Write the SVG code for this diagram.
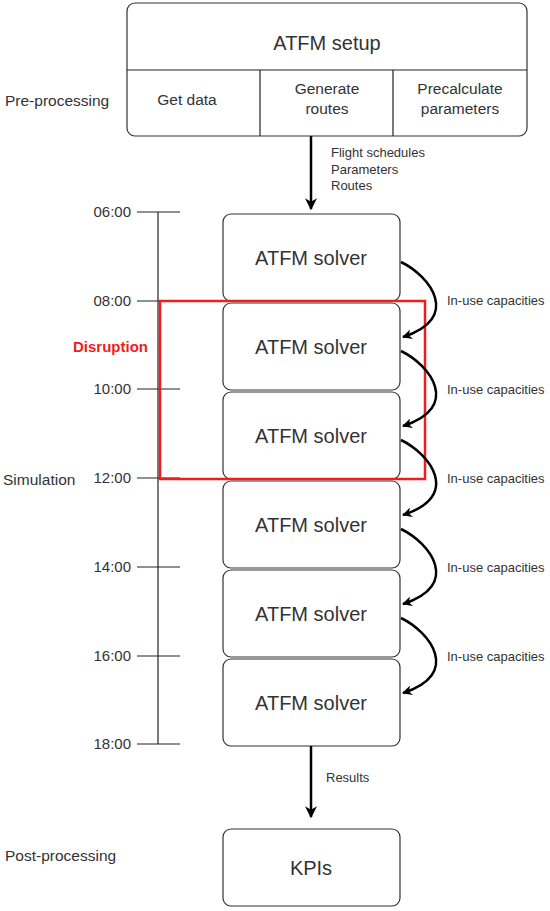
<svg xmlns="http://www.w3.org/2000/svg" width="550" height="911" viewBox="0 0 550 911">
<defs>
<marker id="ah" viewBox="0 0 10 10" refX="9" refY="5" markerWidth="10" markerHeight="10" markerUnits="userSpaceOnUse" orient="auto">
<path d="M0,0 L10,5 L0,10 L3,5 Z" fill="#000"/>
</marker>
<marker id="ahb" viewBox="0 0 10 10" refX="9" refY="5" markerWidth="12" markerHeight="12" markerUnits="userSpaceOnUse" orient="auto">
<path d="M0,0 L10,5 L0,10 L3,5 Z" fill="#000"/>
</marker>
</defs>
<style>
text{font-family:"Liberation Sans",Arial,sans-serif;fill:#333}
.box{fill:#fff;stroke:#333;stroke-width:1.2}
.big{font-size:20px;text-anchor:middle}
.mid{font-size:15.5px;text-anchor:middle}
.time{font-size:15px;text-anchor:end}
.side{font-size:15.5px}
.lbl{font-size:13px}
.tl{stroke:#222;stroke-width:1.2;fill:none}
.edge{stroke:#000;stroke-width:2.5;fill:none}
</style>
<rect width="550" height="911" fill="#fff"/>

<g id="setup">
<rect class="box" x="127" y="3" width="400" height="133" rx="8"/>
<line class="tl" x1="127" y1="70" x2="527" y2="70"/>
<line class="tl" x1="260" y1="70" x2="260" y2="136"/>
<line class="tl" x1="393" y1="70" x2="393" y2="136"/>
<text class="big" x="327" y="50">ATFM setup</text>
<text class="mid" x="187" y="105">Get data</text>
<text class="mid" x="327" y="94">Generate</text>
<text class="mid" x="327" y="114">routes</text>
<text class="mid" x="460" y="94">Precalculate</text>
<text class="mid" x="460" y="114">parameters</text>
</g>

<g id="labels">
<text class="side" x="5" y="106">Pre-processing</text>
<text class="side" x="3" y="485">Simulation</text>
<text class="side" x="5" y="861">Post-processing</text>
<text x="73" y="352" style="font-size:15px;font-weight:bold;fill:#f21c1c">Disruption</text>
</g>

<g id="timeline">
<line class="tl" x1="158" y1="212" x2="158" y2="744"/>
<line class="tl" x1="137" y1="212" x2="180" y2="212"/>
<line class="tl" x1="137" y1="301" x2="180" y2="301"/>
<line class="tl" x1="137" y1="389" x2="180" y2="389"/>
<line class="tl" x1="137" y1="478" x2="180" y2="478"/>
<line class="tl" x1="137" y1="567" x2="180" y2="567"/>
<line class="tl" x1="137" y1="656" x2="180" y2="656"/>
<line class="tl" x1="137" y1="744" x2="180" y2="744"/>
<text class="time" x="131" y="217">06:00</text>
<text class="time" x="131" y="306">08:00</text>
<text class="time" x="131" y="394">10:00</text>
<text class="time" x="131" y="483">12:00</text>
<text class="time" x="131" y="572">14:00</text>
<text class="time" x="131" y="661">16:00</text>
<text class="time" x="131" y="749">18:00</text>
</g>

<g id="solver1"><rect class="box" x="223" y="214" width="177" height="87" rx="8"/><text class="big" x="311" y="265">ATFM solver</text></g>
<g id="solver2"><rect class="box" x="223" y="303" width="177" height="87" rx="8"/><text class="big" x="311" y="354">ATFM solver</text></g>
<g id="solver3"><rect class="box" x="223" y="392" width="177" height="87" rx="8"/><text class="big" x="311" y="443">ATFM solver</text></g>
<g id="solver4"><rect class="box" x="223" y="481" width="177" height="87" rx="8"/><text class="big" x="311" y="532">ATFM solver</text></g>
<g id="solver5"><rect class="box" x="223" y="570" width="177" height="87" rx="8"/><text class="big" x="311" y="621">ATFM solver</text></g>
<g id="solver6"><rect class="box" x="223" y="659" width="177" height="87" rx="8"/><text class="big" x="311" y="710">ATFM solver</text></g>

<g id="kpis"><rect class="box" x="223" y="829" width="177" height="77" rx="8"/><text x="311" y="875" style="font-size:20px;text-anchor:middle">KPIs</text></g>

<g id="disruption-box">
<rect x="160" y="301" width="265" height="178" fill="none" stroke="#f21c1c" stroke-width="2.5"/>
</g>

<g id="connectors">
<line class="edge" x1="311" y1="136" x2="311" y2="209" marker-end="url(#ahb)"/>
<line class="edge" x1="311" y1="746" x2="311" y2="817" marker-end="url(#ahb)"/>
<path class="edge" d="M401,262 C430,276 462,318 403,337" marker-end="url(#ah)"/>
<path class="edge" d="M401,351 C430,365 462,407 403,426" marker-end="url(#ah)"/>
<path class="edge" d="M401,440 C430,454 462,496 403,515" marker-end="url(#ah)"/>
<path class="edge" d="M401,529 C430,543 462,585 403,604" marker-end="url(#ah)"/>
<path class="edge" d="M401,618 C430,632 462,674 403,693" marker-end="url(#ah)"/>
</g>

<g id="edge-labels">
<text class="lbl" x="331" y="157">Flight schedules</text>
<text class="lbl" x="331" y="174">Parameters</text>
<text class="lbl" x="331" y="190">Routes</text>
<text class="lbl" x="326" y="782">Results</text>
<text class="lbl" x="447" y="305">In-use capacities</text>
<text class="lbl" x="447" y="394">In-use capacities</text>
<text class="lbl" x="447" y="483">In-use capacities</text>
<text class="lbl" x="447" y="572">In-use capacities</text>
<text class="lbl" x="447" y="661">In-use capacities</text>
</g>
</svg>
